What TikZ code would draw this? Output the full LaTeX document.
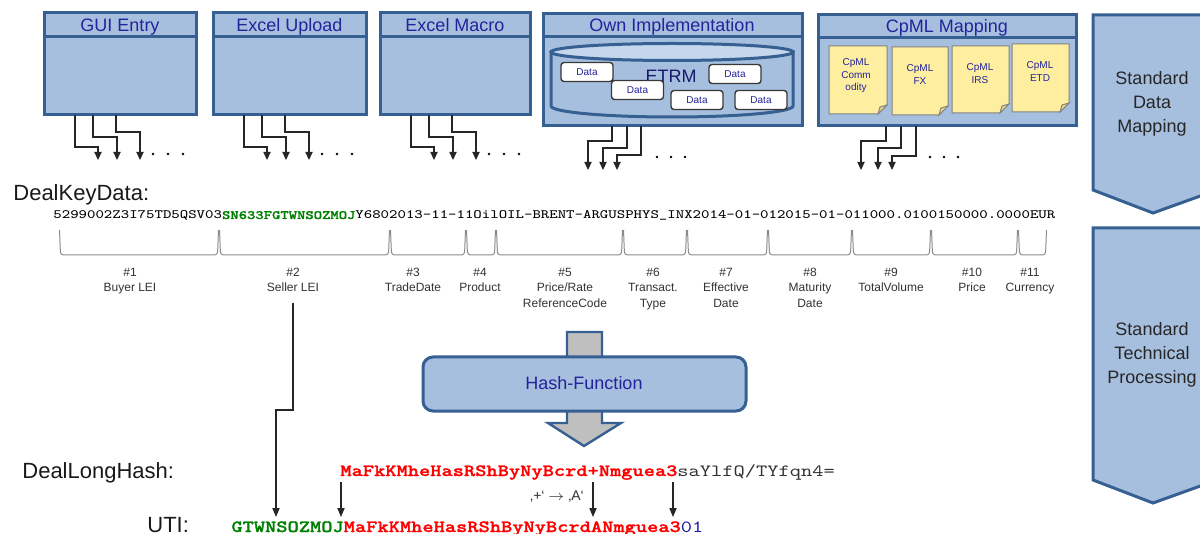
\documentclass[tikz,border=0pt]{standalone}
\usepackage{fontspec}
\setmainfont{Liberation Sans}
\newfontfamily\monobold{lmmonolt10-bold.otf}[FakeBold=1.2]
\usepackage{graphicx}
\usetikzlibrary{arrows.meta,calc,fit}
\definecolor{boxfill}{RGB}{166,191,222}
\definecolor{boxline}{RGB}{55,96,146}
\definecolor{hdrblue}{RGB}{35,35,155}
\definecolor{cylfill}{RGB}{197,215,236}
\definecolor{notefillc}{RGB}{253,238,160}
\definecolor{notefoldc}{RGB}{235,215,130}
\definecolor{noteline}{RGB}{130,130,130}
\definecolor{lblgray}{RGB}{50,50,50}
\definecolor{brgray}{RGB}{140,140,140}
\definecolor{grnkey}{RGB}{0,128,0}
\definecolor{redkey}{RGB}{255,0,0}
\definecolor{bluekey}{RGB}{26,26,160}
\definecolor{arrgray}{RGB}{191,191,191}
\newcommand\keyfont{\fontsize{7.94pt}{8pt}\selectfont\ttfamily}
\newcommand\keybold{\fontsize{7.94pt}{8pt}\monobold}
\newcommand\hashfont{\fontsize{10.7pt}{11pt}\selectfont\ttfamily}
\newcommand\hashbold{\fontsize{10.7pt}{11pt}\monobold}
\tikzset{
  srcbox/.style={draw=boxline, line width=1.5pt, fill=boxfill, inner sep=0pt, outer sep=0pt},
  hdrline/.style={draw=boxline, line width=1.5pt},
  hdr/.style={text=hdrblue, font=\fontsize{9pt}{10pt}\selectfont, inner sep=0pt, anchor=base},
  cylbody/.style={draw=boxline, line width=1.5pt, fill=boxfill},
  cyltop/.style={draw=boxline, line width=1.5pt, fill=cylfill},
  databox/.style={draw=black!78, line width=0.7pt, fill=white, rounded corners=1.5pt, inner sep=0pt, minimum width=26pt, minimum height=9.5pt, text=hdrblue, font=\fontsize{5pt}{6pt}\selectfont},
  notebg/.style={draw=noteline, line width=0.5pt, fill=notefillc},
  notefold/.style={draw=noteline, line width=0.5pt, fill=notefoldc},
  notetxt/.style={text=hdrblue, font=\fontsize{5pt}{6.25pt}\selectfont, align=center, inner sep=0pt, anchor=north},
  conn/.style={draw=black!85, line width=0.55pt, -{Triangle[length=4pt,width=3.6pt]}},
  dotm/.style={fill=black, draw=none},
  brk/.style={draw=brgray, line width=0.5pt, rounded corners=1.5pt},
  lbl/.style={text=lblgray, font=\fontsize{6pt}{7.75pt}\selectfont, align=center, inner sep=0pt, anchor=north},
  big/.style={text=black!90, font=\fontsize{11pt}{13pt}\selectfont, inner sep=0pt, anchor=base west},
  chev/.style={draw=boxline, line width=1.5pt, fill=boxfill, line join=miter},
  chevtxt/.style={text=black!85, font=\fontsize{9pt}{12pt}\selectfont, align=center, inner sep=0pt},
  hashbox/.style={draw=boxline, line width=1.5pt, fill=boxfill, rounded corners=5pt, inner sep=0pt, outer sep=0pt},
  grayarrow/.style={draw=boxline, line width=1.2pt, fill=arrgray, line join=miter},
  hconn/.style={draw=black!85, line width=0.55pt, -{Triangle[length=4.5pt,width=3.6pt]}},
  mono/.style={inner sep=0pt, anchor=base west}
}
\begin{document}
\begin{tikzpicture}[x=0.5pt,y=-0.5pt]
\useasboundingbox (0,0) rectangle (1200,534);
\clip (0,0) rectangle (1200,534);

% ---------- source boxes ----------
\node[srcbox, fit={(44,13)(196,115)}] (gui) {};
\draw[hdrline] ($(gui.north west)+(0,24)$) -- ($(gui.north east)+(0,24)$);
\node[hdr] (guiT) at (120,31.5) {GUI Entry};

\node[srcbox, fit={(213,13)(366,115)}] (upl) {};
\draw[hdrline] ($(upl.north west)+(0,24)$) -- ($(upl.north east)+(0,24)$);
\node[hdr] (uplT) at (289.5,31.5) {Excel Upload};

\node[srcbox, fit={(380,13)(530,115)}] (mac) {};
\draw[hdrline] ($(mac.north west)+(0,24)$) -- ($(mac.north east)+(0,24)$);
\node[hdr] (macT) at (455,31.5) {Excel Macro};

\node[srcbox, fit={(543,14)(802,126)}] (own) {};
\draw[hdrline] ($(own.north west)+(0,23)$) -- ($(own.north east)+(0,23)$);
\node[hdr] (ownT) at (672,31.5) {Own Implementation};
% cylinder
\path[cylbody] (551,52) -- (551,106) arc[start angle=180, end angle=0, x radius=121, y radius=11] -- (793,52) -- cycle;
\draw[cyltop] (672,52) ellipse[x radius=121, y radius=8.5];
\node[text=hdrblue!70!black, font=\fontsize{9pt}{10pt}\selectfont, inner sep=0pt] (etrm) at (671,76) {ETRM};
\node[databox] (d1) at (587,72) {Data};
\node[databox] (d2) at (637.5,90) {Data};
\node[databox] (d3) at (735,74) {Data};
\node[databox] (d4) at (697,100) {Data};
\node[databox] (d5) at (761,100) {Data};

\node[srcbox, fit={(818,15)(1076,126)}] (cpml) {};
\draw[hdrline] ($(cpml.north west)+(0,23)$) -- ($(cpml.north east)+(0,23)$);
\node[hdr] (cpmlT) at (947,32.5) {CpML Mapping};
% notes
\draw[notebg] (829,46) -- (887,46) -- (887,105) -- (878,114) -- (829,114) -- cycle;
\draw[notefold] (878,114) -- (880,107) -- (887,105) -- cycle;
\node[notetxt] (n1) at (856,58.4) {CpML\\Comm\\odity};
\draw[notebg] (892,47) -- (948,47) -- (948,106) -- (939,115) -- (892,115) -- cycle;
\draw[notefold] (939,115) -- (941,108) -- (948,106) -- cycle;
\node[notetxt] (n2) at (920,64.4) {CpML\\FX};
\draw[notebg] (952,46) -- (1009,46) -- (1009,104) -- (1000,113) -- (952,113) -- cycle;
\draw[notefold] (1000,113) -- (1002,106) -- (1009,104) -- cycle;
\node[notetxt] (n3) at (980,63.4) {CpML\\IRS};
\draw[notebg] (1012,44) -- (1069,44) -- (1069,103) -- (1060,112) -- (1012,112) -- cycle;
\draw[notefold] (1060,112) -- (1062,105) -- (1069,103) -- cycle;
\node[notetxt] (n4) at (1040,61.4) {CpML\\ETD};

% ---------- chevrons ----------
\draw[chev] (1093,15) -- (1217,15) -- (1217,190) -- (1153,213) -- (1093,190) -- cycle;
\node[chevtxt] (ch1) at (1152,104) {Standard\\Data\\Mapping};
\draw[chev] (1093,228) -- (1217,228) -- (1217,480) -- (1153,503) -- (1093,480) -- cycle;
\node[chevtxt] (ch2) at (1152,355.3) {Standard\\Technical\\Processing};

% ---------- connectors from sources ----------
\foreach \b in {gui,upl,mac}{
  \draw[conn] ($(\b.south west)+(31,0)$) -- ++(0,32) -- ++(23,0) -- ++(0,13);
  \draw[conn] ($(\b.south west)+(49,0)$) -- ++(0,22) -- ++(24,0) -- ++(0,23);
  \draw[conn] ($(\b.south west)+(72,0)$) -- ++(0,17) -- ++(24,0) -- ++(0,28);
  \foreach \d in {109,124,139}{\fill[dotm] ($(\b.south west)+(\d,39)$) circle[radius=1.4];}
}
\draw[conn] ($(own.south west)+(69,0)$) -- ++(0,15) -- ++(-24,0) -- ++(0,29);
\draw[conn] ($(own.south west)+(84,0)$) -- ++(0,22) -- ++(-24,0) -- ++(0,22);
\draw[conn] ($(own.south west)+(98,0)$) -- ++(0,29) -- ++(-24,0) -- ++(0,15);
\foreach \d in {114,128,142}{\fill[dotm] ($(own.south west)+(\d,31)$) circle[radius=1.4];}
\draw[conn] ($(cpml.south west)+(68,0)$) -- ++(0,15) -- ++(-25,0) -- ++(0,29);
\draw[conn] ($(cpml.south west)+(83,0)$) -- ++(0,22) -- ++(-23,0) -- ++(0,22);
\draw[conn] ($(cpml.south west)+(98,0)$) -- ++(0,30) -- ++(-24,0) -- ++(0,14);
\foreach \d in {112,126,140}{\fill[dotm] ($(cpml.south west)+(\d,31)$) circle[radius=1.4];}

% ---------- DealKeyData ----------
\node[big] (dkdL) at (13,201) {DealKeyData:};
\node[mono] (dkd) at (53,219) {\scalebox{1}[0.8]{\keyfont 5299002Z3I75TD5QSV03{\keybold\color{grnkey}SN633FGTWNSOZMOJ}Y6802013-11-11OilOIL-BRENT-ARGUSPHYS\_INX2014-01-012015-01-011000.0100150000.0000EUR}};
\foreach \a/\b in {59/219,219/390,390/466,466/496,496/623,623/687,687/768,768/852,852/931,931/1018,1018/1047}{
  \draw[brk] ({\a+0.5},230) -- ({\a+1.5},255) -- ({\b-1.5},255) -- ({\b-0.5},230);
}
\node[lbl] (l1) at (130,267.5) {\#1\\Buyer LEI};
\node[lbl] (l2) at (293,267.5) {\#2\\Seller LEI};
\node[lbl] (l3) at (413,267.5) {\#3\\TradeDate};
\node[lbl] (l4) at (480,267.5) {\#4\\Product};
\node[lbl] (l5) at (565,267.5) {\#5\\Price/Rate\\ReferenceCode};
\node[lbl] (l6) at (653,267.5) {\#6\\Transact.\\Type};
\node[lbl] (l7) at (726,267.5) {\#7\\Effective\\Date};
\node[lbl] (l8) at (810,267.5) {\#8\\Maturity\\Date};
\node[lbl] (l9) at (891,267.5) {\#9\\TotalVolume};
\node[lbl] (l10) at (972,267.5) {\#10\\Price};
\node[lbl] (l11) at (1030,267.5) {\#11\\Currency};

% ---------- hash function ----------
\draw[grayarrow] (567,332) -- (602,332) -- (602,423) -- (621,423) -- (584,446) -- (548,423) -- (567,423) -- cycle;
\node[hashbox, fit={(423,357)(746,411)}] (hash) {};
\node[text=hdrblue, font=\fontsize{9pt}{10pt}\selectfont, inner sep=0pt] (hashT) at (584,383) {Hash-Function};

% ---------- DealLongHash / UTI ----------
\node[big] (dlhL) at (22,478) {DealLongHash:};
\node[mono] (dlh) at (340,476) {\scalebox{1}[0.8]{\hashfont{\hashbold\color{redkey}MaFkKMheHasRShByNyBcrd+Nmguea3}{\color{black!80}saYlfQ/TYfqn4=}}};
\node[big] (utiL) at (147,532) {UTI:};
\node[mono] (uti) at (231,532) {\scalebox{1}[0.8]{\hashfont{\hashbold\color{grnkey}GTWNSOZMOJ}{\hashbold\color{redkey}MaFkKMheHasRShByNyBcrdANmguea3}{\color{bluekey}01}}};
\node[text=lblgray, font=\fontsize{7pt}{8pt}\selectfont, inner sep=0pt] (repl) at (557,497) {‚+‘ $\rightarrow$ ‚A‘};

\coordinate (s0) at (293,303);
\coordinate (s1) at (276,410);
\coordinate (s2) at (276,517);
\draw[hconn] (s0) |- (s1) -- (s2);
\coordinate (hM) at (341,482); \coordinate (uM) at (341,517);
\coordinate (hP) at (593,482); \coordinate (uA) at (593,517);
\coordinate (h3) at (673,482); \coordinate (u3) at (673,517);
\draw[hconn] (hM) -- (uM);
\draw[hconn] (hP) -- (uA);
\draw[hconn] (h3) -- (u3);
\end{tikzpicture}
\end{document}
